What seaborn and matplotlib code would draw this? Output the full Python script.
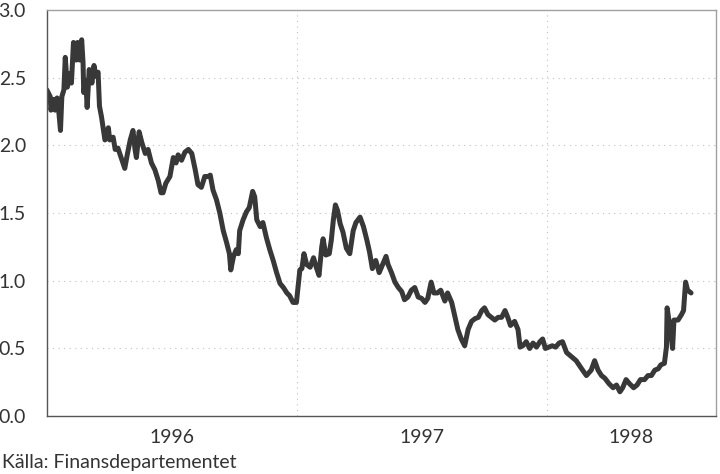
import pandas as pd
import seaborn as sns
import matplotlib
matplotlib.use("Agg")
import matplotlib.pyplot as plt
import matplotlib.dates as mdates
from matplotlib.ticker import FixedLocator, FuncFormatter

# one entry per visible turn of the line
dates = [
    "1996-01-01", "1996-01-06", "1996-01-07", "1996-01-11", "1996-01-13", "1996-01-16",
    "1996-01-18", "1996-01-21", "1996-01-23", "1996-01-26", "1996-01-28", "1996-01-31",
    "1996-02-04", "1996-02-06", "1996-02-09", "1996-02-13", "1996-02-15", "1996-02-18",
    "1996-02-21", "1996-02-23", "1996-02-24", "1996-02-27", "1996-02-29", "1996-03-03",
    "1996-03-07", "1996-03-10", "1996-03-13", "1996-03-16", "1996-03-18", "1996-03-21",
    "1996-03-24", "1996-03-26", "1996-03-31", "1996-04-02", "1996-04-07", "1996-04-10",
    "1996-04-14", "1996-04-20", "1996-04-24", "1996-04-28", "1996-05-02", "1996-05-06",
    "1996-05-09", "1996-05-11", "1996-05-15", "1996-05-19", "1996-05-24", "1996-05-28",
    "1996-06-02", "1996-06-07", "1996-06-12", "1996-06-16", "1996-06-19", "1996-06-23",
    "1996-06-29", "1996-07-04", "1996-07-08", "1996-07-11", "1996-07-16", "1996-07-21",
    "1996-07-26", "1996-07-31", "1996-08-05", "1996-08-09", "1996-08-14", "1996-08-19",
    "1996-08-24", "1996-08-27", "1996-08-31", "1996-09-05", "1996-09-10", "1996-09-15",
    "1996-09-20", "1996-09-24", "1996-09-26", "1996-09-30", "1996-10-04", "1996-10-07",
    "1996-10-09", "1996-10-14", "1996-10-19", "1996-10-23", "1996-10-28", "1996-10-31",
    "1996-11-03", "1996-11-08", "1996-11-12", "1996-11-17", "1996-11-22", "1996-11-27",
    "1996-12-02", "1996-12-07", "1996-12-12", "1996-12-17", "1996-12-21", "1996-12-26",
    "1996-12-31",
    "1997-01-03", "1997-01-05", "1997-01-08", "1997-01-11", "1997-01-15", "1997-01-20",
    "1997-01-25", "1997-01-29", "1997-02-02", "1997-02-06", "1997-02-08", "1997-02-12",
    "1997-02-17", "1997-02-20", "1997-02-23", "1997-02-26", "1997-03-01", "1997-03-05",
    "1997-03-09", "1997-03-14", "1997-03-19", "1997-03-24", "1997-03-28", "1997-04-03",
    "1997-04-08", "1997-04-13", "1997-04-17", "1997-04-21", "1997-04-26", "1997-05-01",
    "1997-05-06", "1997-05-11", "1997-05-14", "1997-05-19", "1997-05-24", "1997-05-29",
    "1997-06-03", "1997-06-07", "1997-06-12", "1997-06-17", "1997-06-22", "1997-06-27",
    "1997-07-02", "1997-07-07", "1997-07-11", "1997-07-16", "1997-07-20", "1997-07-25",
    "1997-07-30", "1997-08-05", "1997-08-09", "1997-08-15", "1997-08-20", "1997-08-24",
    "1997-08-29", "1997-09-03", "1997-09-08", "1997-09-13", "1997-09-18", "1997-09-23",
    "1997-09-28", "1997-10-02", "1997-10-07", "1997-10-12", "1997-10-17", "1997-10-22",
    "1997-10-27", "1997-11-01", "1997-11-05", "1997-11-09", "1997-11-15", "1997-11-20",
    "1997-11-23", "1997-11-27", "1997-12-02", "1997-12-07", "1997-12-12", "1997-12-17",
    "1997-12-22", "1997-12-26", "1997-12-30",
    "1998-01-04", "1998-01-09", "1998-01-14", "1998-01-19", "1998-01-24", "1998-01-30",
    "1998-02-06", "1998-02-13", "1998-02-21", "1998-02-28", "1998-03-07", "1998-03-12",
    "1998-03-17", "1998-03-22", "1998-03-27", "1998-04-02", "1998-04-08", "1998-04-13",
    "1998-04-18", "1998-04-22", "1998-04-27", "1998-05-02", "1998-05-08", "1998-05-13",
    "1998-05-18", "1998-05-24", "1998-05-29", "1998-06-03", "1998-06-08", "1998-06-13",
    "1998-06-17", "1998-06-22", "1998-06-25", "1998-06-26", "1998-06-30", "1998-07-04",
    "1998-07-06", "1998-07-12", "1998-07-17", "1998-07-20", "1998-07-23", "1998-07-26",
    "1998-07-31",
]
values = [
    2.41, 2.36, 2.26, 2.34, 2.26, 2.35,
    2.28, 2.11, 2.36, 2.41, 2.65, 2.43,
    2.53, 2.46, 2.76, 2.63, 2.76, 2.63,
    2.78, 2.61, 2.39, 2.48, 2.28, 2.56,
    2.46, 2.59, 2.51, 2.54, 2.29, 2.21,
    2.11, 2.04, 2.13, 2.04, 2.06, 1.97,
    1.98, 1.89, 1.83, 1.94, 2.04, 2.11,
    1.97, 1.91, 2.10, 2.02, 1.94, 1.97,
    1.87, 1.82, 1.74, 1.65, 1.65, 1.72,
    1.77, 1.91, 1.87, 1.93, 1.89, 1.95,
    1.97, 1.94, 1.82, 1.71, 1.69, 1.77,
    1.77, 1.78, 1.67, 1.60, 1.50, 1.37,
    1.28, 1.20, 1.08, 1.18, 1.23, 1.20,
    1.37, 1.45, 1.51, 1.54, 1.66, 1.62,
    1.45, 1.40, 1.43, 1.32, 1.23, 1.15,
    1.06, 0.98, 0.95, 0.91, 0.89, 0.84,
    0.84,
    0.98, 1.08, 1.09, 1.20, 1.12, 1.10,
    1.17, 1.10, 1.04, 1.25, 1.31, 1.19,
    1.20, 1.30, 1.45, 1.56, 1.52, 1.42,
    1.36, 1.24, 1.20, 1.37, 1.43, 1.47,
    1.40, 1.30, 1.21, 1.09, 1.15, 1.06,
    1.12, 1.18, 1.12, 1.06, 0.99, 0.95,
    0.92, 0.86, 0.88, 0.93, 0.95, 0.88,
    0.87, 0.84, 0.87, 0.99, 0.91, 0.91,
    0.93, 0.85, 0.91, 0.84, 0.73, 0.64,
    0.57, 0.52, 0.64, 0.70, 0.72, 0.73,
    0.78, 0.80, 0.75, 0.73, 0.71, 0.73,
    0.73, 0.78, 0.73, 0.67, 0.70, 0.64,
    0.51, 0.52, 0.55, 0.50, 0.54, 0.51,
    0.55, 0.57, 0.50,
    0.51, 0.52, 0.51, 0.54, 0.55, 0.47,
    0.44, 0.41, 0.35, 0.30, 0.34, 0.41,
    0.34, 0.30, 0.28, 0.24, 0.21, 0.23,
    0.18, 0.21, 0.27, 0.24, 0.21, 0.23,
    0.27, 0.27, 0.30, 0.30, 0.34, 0.35,
    0.38, 0.39, 0.51, 0.80, 0.66, 0.50,
    0.71, 0.71, 0.75, 0.78, 0.99, 0.93,
    0.91,
]

year_starts = ["1997-01-01", "1998-01-01"]
year_labels = ["1996", "1997", "1998"]
label_dates = ["1996-07-02", "1997-07-02", "1998-05-04"]
y_ticks = [0.0, 0.5, 1.0, 1.5, 2.0, 2.5, 3.0]

df = pd.DataFrame({"date": pd.to_datetime(dates), "value": values})

sns.set_style("white")
plt.rcParams["font.family"] = ["Lato", "DejaVu Sans"]

fig = plt.figure(figsize=(7.2, 4.74), dpi=100)
ax = fig.add_axes([0.065, 0.122, 0.929, 0.857])

sns.lineplot(data=df, x="date", y="value", ax=ax, color="#383838", linewidth=3.6)

ax.set_xlim(pd.Timestamp("1996-01-01"), pd.Timestamp("1998-09-05"))
ax.set_ylim(0, 3.0)

ax.set_yticks(y_ticks)
ax.yaxis.set_major_formatter(FuncFormatter(lambda v, p: f"{v:.1f}"))

year_nums = [mdates.date2num(pd.Timestamp(d)) for d in year_starts]
label_nums = [mdates.date2num(pd.Timestamp(d)) for d in label_dates]
ax.xaxis.set_major_locator(FixedLocator(year_nums))
ax.xaxis.set_major_formatter(FuncFormatter(lambda v, p: ""))
ax.xaxis.set_minor_locator(FixedLocator(label_nums))
ax.xaxis.set_minor_formatter(FuncFormatter(lambda v, p: year_labels[p] if p is not None and p < len(year_labels) else ""))

ax.tick_params(axis="y", which="major", direction="in", length=6, width=0.8,
               color="#555555", labelsize=14, labelcolor="#333333", pad=15)
ax.tick_params(axis="x", which="major", direction="in", length=5, width=0.8, color="#555555")
ax.tick_params(axis="x", which="minor", length=0, labelsize=14, labelcolor="#333333", pad=9)

for y in y_ticks[1:-1]:
    ax.axhline(y, color="#c0c0c0", linestyle=(0, (1, 4)), linewidth=0.8, zorder=0)
for x in year_nums:
    ax.axvline(x, color="#c0c0c0", linestyle=(0, (1, 4)), linewidth=0.8, zorder=0)

ax.set_xlabel("")
ax.set_ylabel("")

for side in ["left", "bottom"]:
    ax.spines[side].set_color("#555555")
    ax.spines[side].set_linewidth(1.0)
for side in ["top", "right"]:
    ax.spines[side].set_color("#a0a0a0")
    ax.spines[side].set_linewidth(1.0)

fig.text(0.003, 0.006, "Källa: Finansdepartementet", fontsize=14, color="#333333",
         ha="left", va="bottom")

fig.savefig("out.png", dpi=100)
